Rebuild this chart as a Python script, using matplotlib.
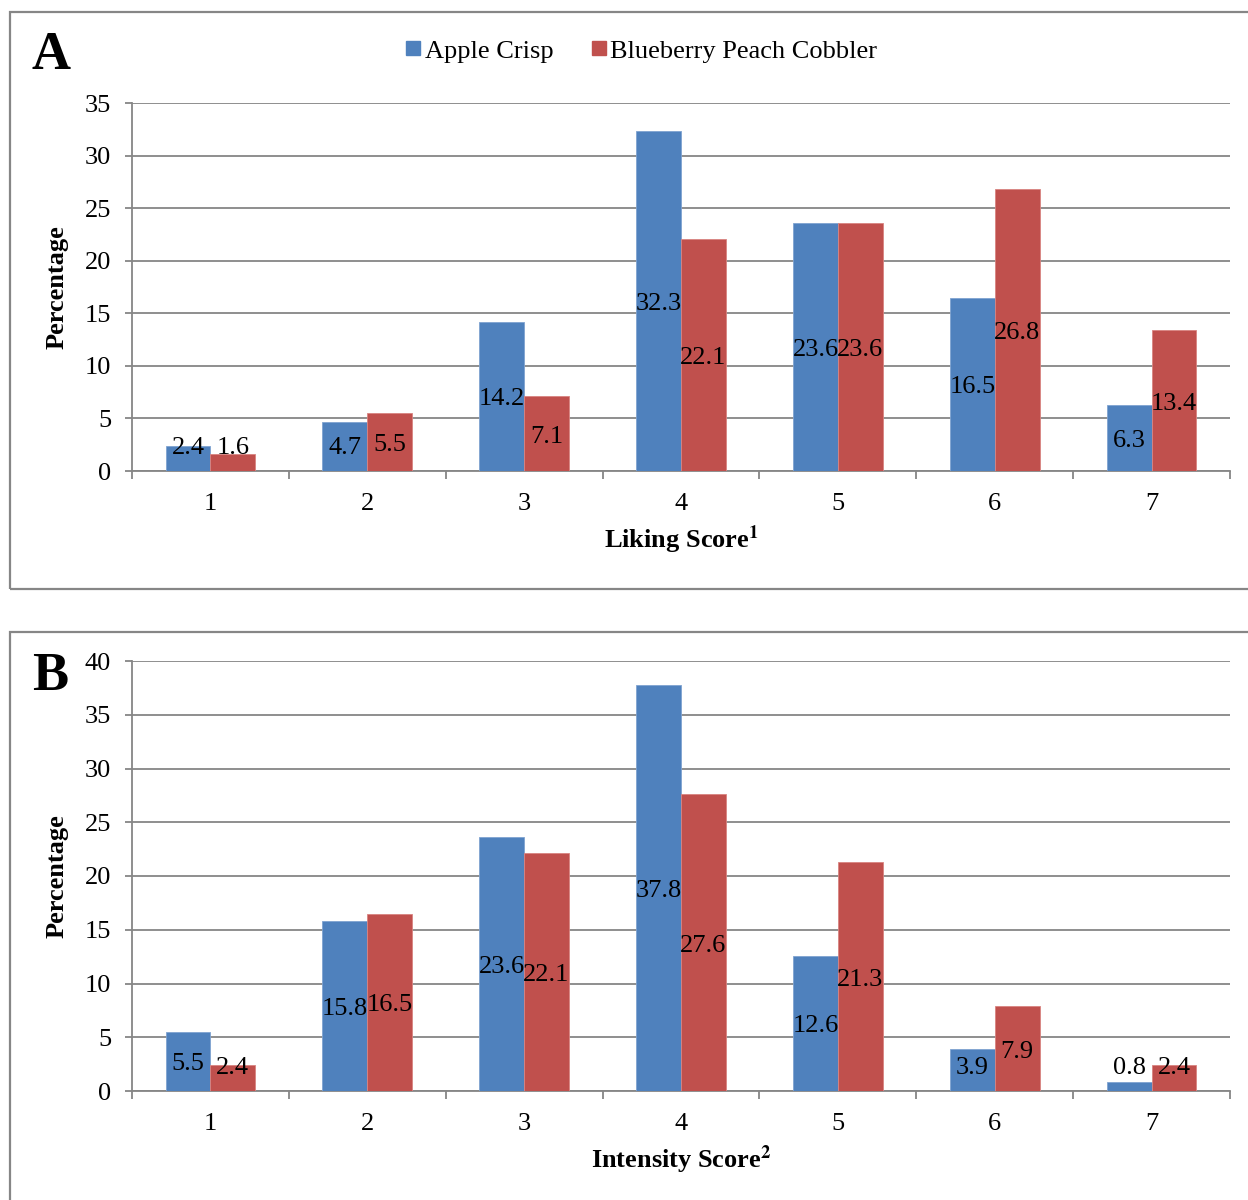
import numpy as np
import matplotlib
matplotlib.use("Agg")
from matplotlib import pyplot as plt
from matplotlib.patches import Rectangle
from matplotlib.lines import Line2D

plt.rcParams['font.family'] = ['Liberation Serif', 'DejaVu Serif']
plt.rcParams['mathtext.fontset'] = 'stix'

scores = [1, 2, 3, 4, 5, 6, 7]
series_names = ["Apple Crisp", "Blueberry Peach Cobbler"]
liking_apple = [2.4, 4.7, 14.2, 32.3, 23.6, 16.5, 6.3]
liking_cobbler = [1.6, 5.5, 7.1, 22.1, 23.6, 26.8, 13.4]
intensity_apple = [5.5, 15.8, 23.6, 37.8, 12.6, 3.9, 0.8]
intensity_cobbler = [2.4, 16.5, 22.1, 27.6, 21.3, 7.9, 2.4]

BLUE = "#4F81BD"
RED = "#C0504D"
GRAY = "#868686"
W, H = 1248, 1200

fig = plt.figure(figsize=(W / 100, H / 100), dpi=100)

# panel frames
fig.patches.append(Rectangle((10 / W, 1 - 589 / H), 1.2, (589 - 12) / H,
                             transform=fig.transFigure, fill=False,
                             edgecolor=GRAY, linewidth=1.6))
fig.patches.append(Rectangle((10 / W, -0.2), 1.2, 0.2 + (1200 - 632) / H,
                             transform=fig.transFigure, fill=False,
                             edgecolor=GRAY, linewidth=1.6))


def panel(rect_px, apple, cobbler, ymax, xlabel, letter, letter_xy):
    left, top, right, bottom = rect_px
    ax = fig.add_axes([left / W, 1 - bottom / H, (right - left) / W, (bottom - top) / H])
    x = np.array(scores)
    w = 1 / 3.5
    ax.bar(x - w / 2, apple, w, color=BLUE, edgecolor="#7fa3d0", linewidth=0.6, zorder=3)
    ax.bar(x + w / 2, cobbler, w, color=RED, edgecolor="#d98481", linewidth=0.6, zorder=3)
    ax.set_xlim(0.5, 7.5)
    ax.set_ylim(0, ymax)
    ax.set_yticks(np.arange(0, ymax + 1, 5))
    ax.yaxis.grid(True, color=GRAY, linewidth=1.3, zorder=0)
    ax.set_axisbelow(True)
    for s in ["top", "right"]:
        ax.spines[s].set_visible(False)
    for s in ["left", "bottom"]:
        ax.spines[s].set_color(GRAY)
        ax.spines[s].set_linewidth(1.3)
    ax.set_xticks(x)
    ax.set_xticklabels([str(s) for s in scores])
    ax.set_xticks(np.arange(0.5, 8, 1), minor=True)
    ax.tick_params(axis="x", which="major", length=0, pad=16, labelsize=19)
    ax.tick_params(axis="x", which="minor", length=6, color=GRAY, width=1.3)
    ax.tick_params(axis="y", length=5, color=GRAY, width=1.3, pad=10, labelsize=19)
    ax.set_xlabel(xlabel, fontsize=19, fontweight="bold", labelpad=6)
    ax.set_ylabel("Percentage", fontsize=19, fontweight="bold", labelpad=12)

    ppu = (bottom - top) / ymax
    for xs, vals in [(x - w / 2, apple), (x + w / 2, cobbler)]:
        for xi, v in zip(xs, vals):
            y = max(v / 2, 26 / ppu) - 3 / ppu
            ax.text(xi, y, f"{v:.1f}", ha="center", va="center", fontsize=19, zorder=4)

    fig.text(letter_xy[0] / W, 1 - letter_xy[1] / H, letter, fontsize=39,
             fontweight="bold", ha="center", va="center")
    return ax


axA = panel((132, 103, 1230, 471), liking_apple, liking_cobbler, 35,
            r"Liking Score$^{\mathbf{1}}$", "A", (51, 56))
axB = panel((132, 661, 1230, 1091), intensity_apple, intensity_cobbler, 40,
            r"Intensity Score$^{\mathbf{2}}$", "B", (50, 677))

handles = [Line2D([], [], marker="s", linestyle="none", markersize=9.5,
                  markerfacecolor=c, markeredgecolor=c) for c in (BLUE, RED)]
fig.legend(handles, series_names, loc="center", bbox_to_anchor=(640 / W, 1 - 51 / H),
           ncol=2, frameon=False, fontsize=19, handletextpad=0.05,
           columnspacing=1.3, handlelength=0.8)

fig.savefig("out.png", dpi=100)
